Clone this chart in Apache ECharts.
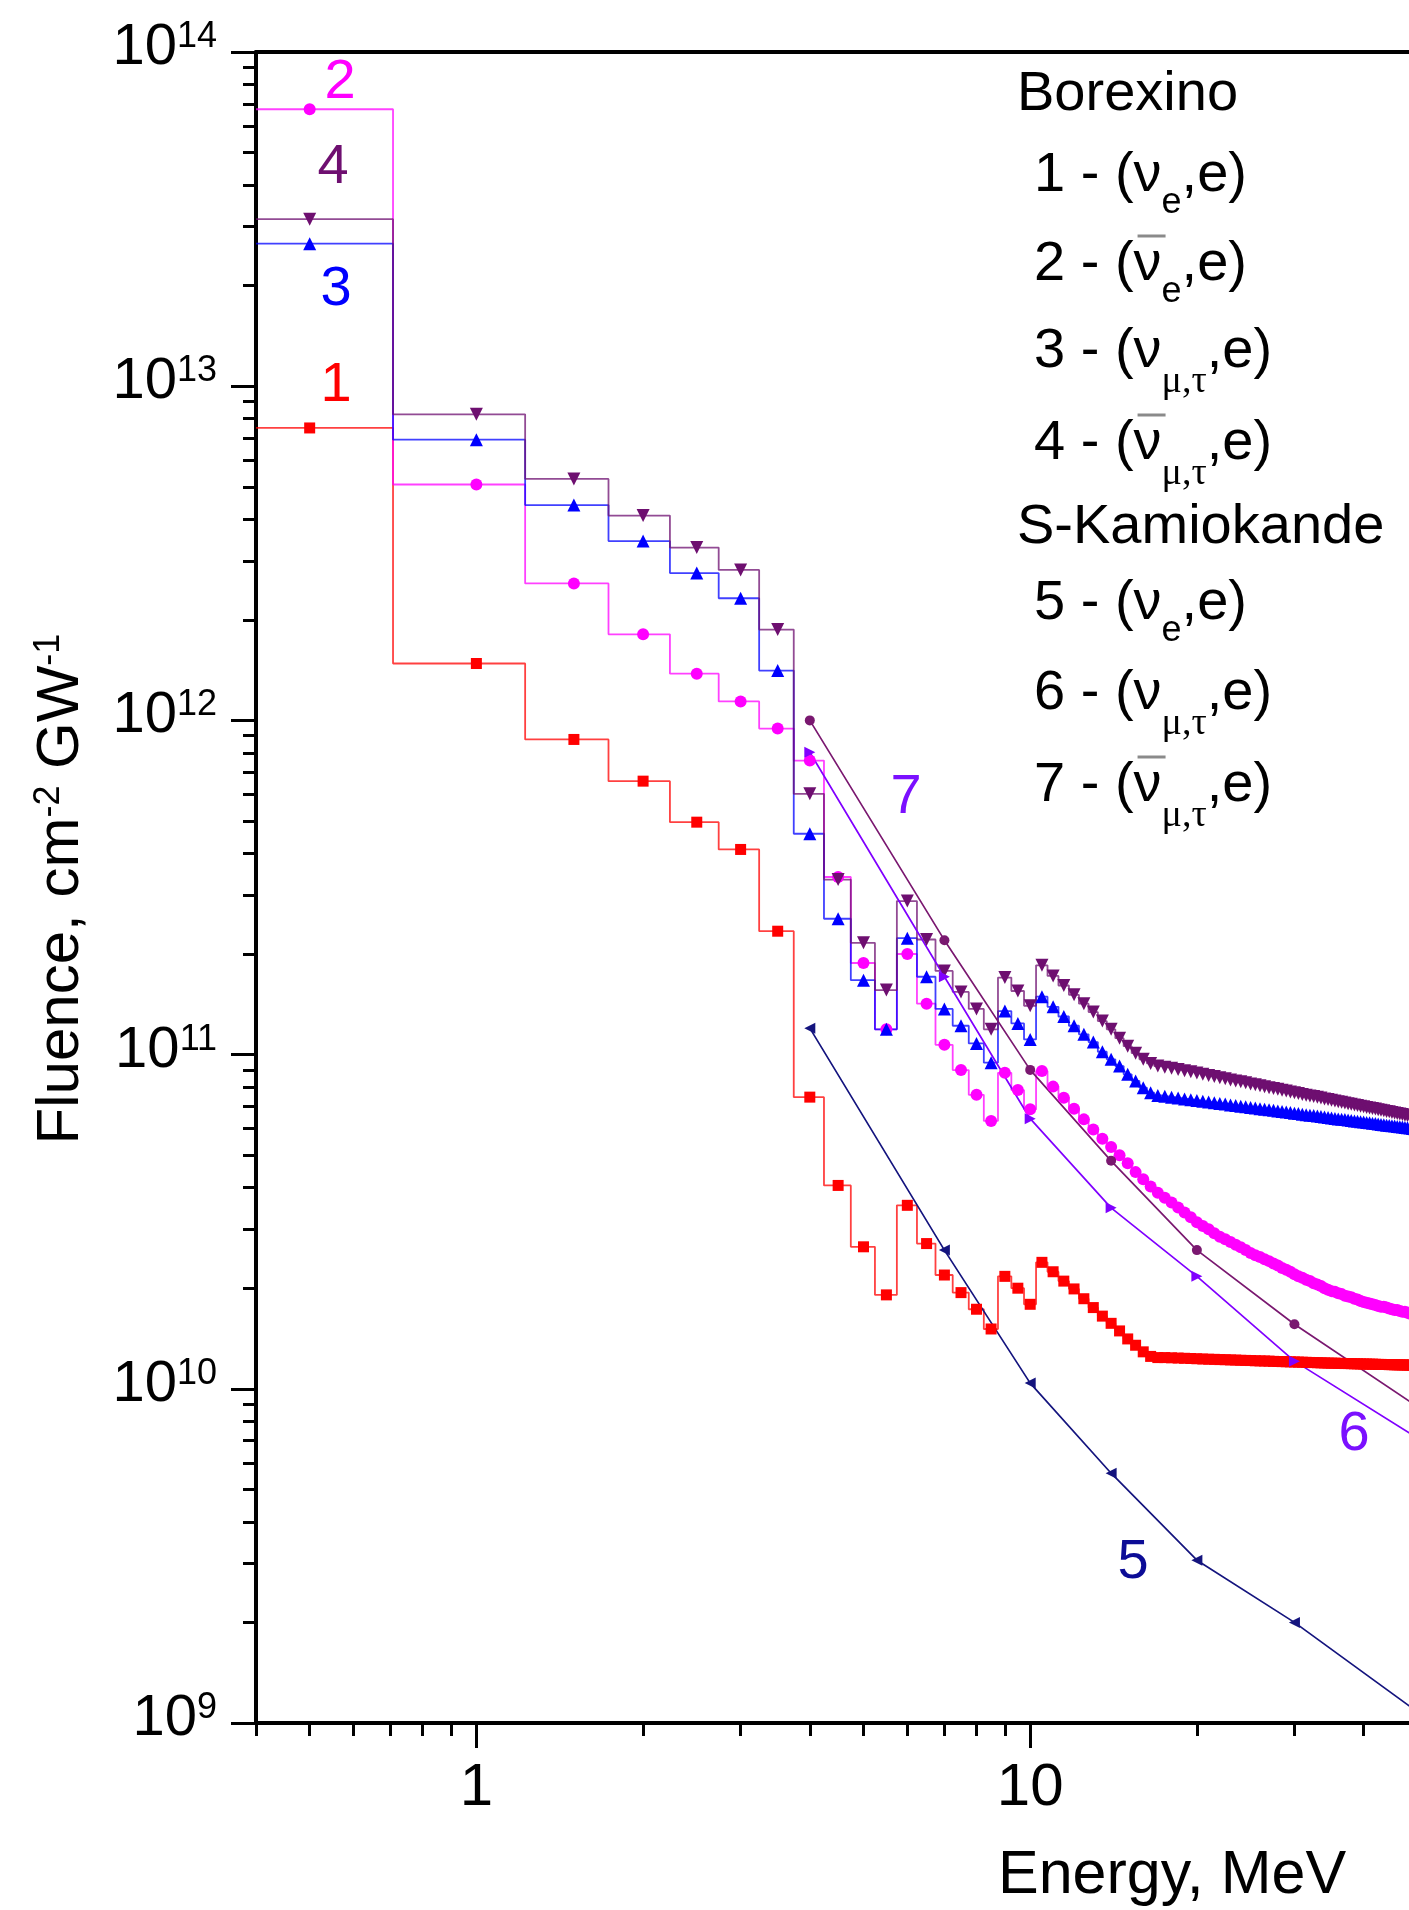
<!DOCTYPE html>
<html>
<head>
<meta charset="utf-8">
<title>Reactor antineutrino fluence</title>
<script src="https://cdn.jsdelivr.net/npm/echarts@6/dist/echarts.min.js"></script>
<style>
  html, body { margin: 0; padding: 0; background: #ffffff; }
  #chart { width: 1409px; height: 1910px; }
</style>
</head>
<body>
<div id="chart"></div>
<script>
const FONT = '"Liberation Sans", Arial, Helvetica, sans-serif';
const SERIF = '"Liberation Serif", "Times New Roman", serif';

// Fluence values below are given in units of 1e10 cm^-2 GW^-1
const UNIT = 1e10;

// Borexino: bin centres, MeV
const energy = [
  0.5, 1, 1.5, 2, 2.5, 3, 3.5, 4, 4.5, 5,
  5.5, 6, 6.5, 7, 7.5, 8, 8.5, 9, 9.5, 10,
  10.5, 11, 11.5, 12, 12.5, 13, 13.5, 14, 14.5, 15,
  15.5, 16, 16.5, 17, 17.5, 18, 18.5, 19, 19.5, 20,
  20.5, 21, 21.5, 22, 22.5, 23, 23.5, 24, 24.5, 25,
  25.5, 26, 26.5, 27, 27.5, 28, 28.5, 29, 29.5, 30,
  30.5, 31, 31.5, 32, 32.5, 33, 33.5, 34, 34.5, 35,
  35.5, 36, 36.5, 37, 37.5, 38, 38.5, 39, 39.5, 40,
  40.5, 41, 41.5, 42, 42.5, 43, 43.5, 44, 44.5, 45,
  45.5, 46, 46.5, 47, 47.5, 48, 48.5, 49, 49.5, 50
];

// 1 - (nu_e, e)
const fluence1 = [
  750, 148, 87.7, 65.8, 49.6, 41.1, 23.4, 7.46, 4.06, 2.66,
  1.91, 3.54, 2.72, 2.19, 1.94, 1.73, 1.51, 2.17, 2.00, 1.79,
  2.39, 2.24, 2.10, 1.99, 1.86, 1.75, 1.65, 1.57, 1.49, 1.41,
  1.35, 1.29, 1.25, 1.24, 1.240, 1.238, 1.236, 1.234, 1.232, 1.230,
  1.228, 1.226, 1.225, 1.223, 1.222, 1.220, 1.219, 1.217, 1.216, 1.215,
  1.213, 1.212, 1.211, 1.210, 1.208, 1.207, 1.206, 1.205, 1.204, 1.203,
  1.202, 1.201, 1.200, 1.199, 1.198, 1.197, 1.196, 1.195, 1.194, 1.193,
  1.193, 1.192, 1.191, 1.190, 1.190, 1.189, 1.188, 1.188, 1.187, 1.186,
  1.186, 1.185, 1.185, 1.184, 1.183, 1.183, 1.182, 1.182, 1.181, 1.181,
  1.180, 1.180, 1.179, 1.179, 1.178, 1.178, 1.177, 1.177, 1.176, 1.176
];

// 2 - (anti-nu_e, e)
const fluence2 = [
  6740, 508, 257, 181, 138, 114, 94.5, 75.8, 34.0, 18.8,
  11.9, 20.0, 14.2, 10.7, 8.99, 7.58, 6.33, 8.82, 7.83, 6.86,
  8.93, 8.02, 7.43, 6.89, 6.40, 5.97, 5.60, 5.29, 5.00, 4.73,
  4.45, 4.24, 4.03, 3.86, 3.73, 3.61, 3.49, 3.37, 3.26, 3.15,
  3.07, 3.00, 2.92, 2.85, 2.80, 2.75, 2.70, 2.65, 2.60, 2.55,
  2.51, 2.48, 2.44, 2.41, 2.37, 2.34, 2.30, 2.27, 2.24, 2.20,
  2.17, 2.15, 2.12, 2.10, 2.07, 2.05, 2.03, 2.00, 1.98, 1.96,
  1.95, 1.93, 1.92, 1.90, 1.89, 1.88, 1.86, 1.85, 1.83, 1.82,
  1.81, 1.80, 1.79, 1.78, 1.77, 1.76, 1.76, 1.75, 1.74, 1.73,
  1.72, 1.72, 1.71, 1.70, 1.70, 1.69, 1.68, 1.68, 1.67, 1.66
];

// 3 - (nu_mu,tau, e)
const fluence3 = [
  2670, 692, 441, 344, 276, 232, 141, 45.8, 25.5, 16.7,
  11.9, 22.3, 17.1, 13.7, 12.2, 10.8, 9.46, 13.5, 12.4, 11.1,
  14.9, 13.9, 13.0, 12.2, 11.5, 10.9, 10.2, 9.68, 9.24, 8.73,
  8.34, 7.96, 7.69, 7.55, 7.50, 7.46, 7.41, 7.37, 7.33, 7.29,
  7.25, 7.21, 7.18, 7.14, 7.11, 7.07, 7.04, 7.01, 6.98, 6.95,
  6.92, 6.89, 6.86, 6.84, 6.81, 6.78, 6.76, 6.73, 6.71, 6.68,
  6.66, 6.63, 6.61, 6.59, 6.57, 6.55, 6.53, 6.50, 6.48, 6.46,
  6.44, 6.42, 6.41, 6.39, 6.37, 6.35, 6.33, 6.32, 6.30, 6.28,
  6.26, 6.25, 6.23, 6.22, 6.20, 6.18, 6.17, 6.15, 6.14, 6.12,
  6.11, 6.09, 6.08, 6.07, 6.05, 6.04, 6.03, 6.01, 6.00, 5.99
];

// 4 - (anti-nu_mu,tau, e)
const fluence4 = [
  3160, 824, 528, 410, 329, 282, 187, 60.3, 33.4, 21.6,
  15.6, 28.8, 22.1, 17.8, 15.4, 13.7, 11.9, 17.0, 15.5, 14.0,
  18.5, 17.2, 16.1, 15.1, 14.2, 13.4, 12.6, 11.9, 11.2, 10.6,
  10.1, 9.68, 9.41, 9.24, 9.17, 9.10, 9.02, 8.95, 8.88, 8.81,
  8.73, 8.66, 8.60, 8.53, 8.47, 8.40, 8.34, 8.29, 8.23, 8.17,
  8.12, 8.07, 8.01, 7.96, 7.92, 7.87, 7.82, 7.78, 7.73, 7.69,
  7.65, 7.60, 7.56, 7.52, 7.49, 7.45, 7.41, 7.37, 7.34, 7.30,
  7.27, 7.23, 7.20, 7.17, 7.13, 7.10, 7.07, 7.04, 7.01, 6.98,
  6.95, 6.92, 6.90, 6.87, 6.84, 6.82, 6.79, 6.76, 6.74, 6.71,
  6.69, 6.66, 6.64, 6.62, 6.59, 6.57, 6.55, 6.52, 6.50, 6.48
];

// Super-Kamiokande: threshold energies, MeV
const skEnergy = [4, 7, 10, 14, 20, 30, 50];
const fluence5 = [12.0, 2.60, 1.04, 0.559, 0.307, 0.200, 0.108];   // (nu_e, e)
const fluence6 = [80.3, 17.1, 6.43, 3.48, 2.17, 1.21, 0.713];      // (nu_mu,tau, e)
const fluence7 = [100, 22.0, 9.00, 4.81, 2.60, 1.56, 0.885];       // (anti-nu_mu,tau, e)

// Axis ticks
const X_MIN = 0.4, X_MAX = 100;
const Y_MIN = 1e9, Y_MAX = 1e14;
const xMajorTicks = [1, 10, 100];
const xMinorTicks = [0.4, 0.5, 0.6, 0.7, 0.8, 0.9, 2, 3, 4, 5, 6, 7, 8, 9, 20, 30, 40, 50, 60, 70, 80, 90];
const yMajorTicks = [1e9, 1e10, 1e11, 1e12, 1e13, 1e14];
const yMinorMantissas = [2, 3, 4, 5, 6, 7, 8, 9];

// Text
const xTitle = 'Energy, MeV';
const legendHeads = ['Borexino', 'S-Kamiokande'];
const legendEntries = [
  { num: '1', sub: 'e', anti: false },
  { num: '2', sub: 'e', anti: true },
  { num: '3', sub: 'μ,τ', anti: false },
  { num: '4', sub: 'μ,τ', anti: true },
  { num: '5', sub: 'e', anti: false },
  { num: '6', sub: 'μ,τ', anti: false },
  { num: '7', sub: 'μ,τ', anti: true }
];
const curveTags = ['1', '2', '3', '4', '5', '6', '7'];

// ---------------------------------------------------------------------------

const yMinorTicks = [];
yMajorTicks.slice(0, -1).forEach(function (d) {
  yMinorMantissas.forEach(function (m) { yMinorTicks.push(m * d); });
});

[fluence1, fluence2, fluence3, fluence4].forEach(function (a) {
  if (a.length !== energy.length) throw new Error('length mismatch');
});

const stepStyles = [
  { values: fluence1, color: '#ff0000', symbol: 'rect', size: 11, rotate: 0 },
  { values: fluence2, color: '#ff00ff', symbol: 'circle', size: 12, rotate: 0 },
  { values: fluence3, color: '#0000ff', symbol: 'triangle', size: 13, rotate: 0 },
  { values: fluence4, color: '#6e0f70', symbol: 'triangle', size: 13, rotate: 180 }
];
const skStyles = [
  { values: fluence5, color: '#14147e', symbol: 'triangle', size: 11, rotate: 90 },
  { values: fluence6, color: '#8000ff', symbol: 'triangle', size: 11, rotate: -90 },
  { values: fluence7, color: '#7a1870', symbol: 'circle', size: 10, rotate: 0 }
];

const series = [];
stepStyles.forEach(function (s, k) {
  // the first bin is carried on to the left edge of the plot
  const data = [{ value: [X_MIN, s.values[0] * UNIT], symbol: 'none' }];
  energy.forEach(function (e, i) { data.push([e, s.values[i] * UNIT]); });
  series.push({
    type: 'line', name: 'B' + (k + 1), xAxisIndex: 0, yAxisIndex: 0,
    step: 'middle', data: data,
    symbol: s.symbol, symbolSize: s.size, symbolRotate: s.rotate, showAllSymbol: true,
    itemStyle: { color: s.color },
    lineStyle: { color: s.color, width: 1.8, opacity: 0.75 },
    emphasis: { disabled: true }, animation: false
  });
});
skStyles.forEach(function (s, k) {
  series.push({
    type: 'line', name: 'SK' + (k + 5), xAxisIndex: 0, yAxisIndex: 0,
    data: skEnergy.map(function (e, i) { return [e, s.values[i] * UNIT]; }),
    symbol: s.symbol, symbolSize: s.size, symbolRotate: s.rotate, showAllSymbol: true,
    itemStyle: { color: s.color },
    lineStyle: { color: s.color, width: 1.7 },
    emphasis: { disabled: true }, animation: false
  });
});

const AXIS_BLACK = '#000000';
const xBase = { type: 'log', logBase: 10, min: X_MIN, max: X_MAX, gridIndex: 0, splitLine: { show: false } };
const yBase = { type: 'log', logBase: 10, min: Y_MIN, max: Y_MAX, gridIndex: 0, splitLine: { show: false } };

// ---- free text: axis titles, legend block, curve tags ----
const measure = document.createElement('canvas').getContext('2d');
function textWidth(str, font) { measure.font = font; return measure.measureText(str).width; }

const graphic = [];

graphic.push({
  type: 'text', x: 998, y: 1876, silent: true,
  style: { text: xTitle, fill: '#000', fontSize: 61, fontFamily: FONT, align: 'left', verticalAlign: 'middle' }
});

graphic.push({
  type: 'text', x: 61, y: 889, rotation: Math.PI / 2, silent: true,
  style: {
    text: '{b|Fluence, cm}{s|-2}{b| GW}{s|-1}',
    fill: '#000', align: 'center', verticalAlign: 'middle',
    rich: {
      b: { fontSize: 60, lineHeight: 60, fontFamily: FONT, fill: '#000', verticalAlign: 'bottom' },
      s: { fontSize: 36, lineHeight: 36, fontFamily: FONT, fill: '#000', verticalAlign: 'top', padding: [0, 0, 32, 0] }
    }
  }
});

const LEG_FS = 56;
const headX = 1017, entryX = 1034;
const headY = [95, 528];
const entryY = [176, 265, 352, 444, 604, 694, 786];
legendHeads.forEach(function (h, i) {
  graphic.push({
    type: 'text', x: headX, y: headY[i], silent: true,
    style: { text: h, fill: '#000', fontSize: LEG_FS, fontFamily: FONT, align: 'left', verticalAlign: 'middle' }
  });
});
legendEntries.forEach(function (en, i) {
  const y = entryY[i];
  const greek = en.sub !== 'e';
  graphic.push({
    type: 'text', x: entryX, y: y - 28, silent: true,
    style: {
      text: '{b|' + en.num + ' - (ν}{' + (greek ? 'g' : 'e') + '|' + en.sub + '}{b|,e)}',
      fill: '#000', align: 'left', verticalAlign: 'top',
      rich: {
        b: { fontSize: LEG_FS, lineHeight: LEG_FS, fontFamily: FONT, fill: '#000', verticalAlign: 'top' },
        e: { fontSize: 36, lineHeight: 36, fontFamily: FONT, fill: '#000', verticalAlign: 'top', padding: [37, 0, 0, 0] },
        g: { fontSize: 38, lineHeight: 38, fontFamily: SERIF, fill: '#000', verticalAlign: 'top', padding: [39, 0, 0, 0] }
      }
    }
  });
  if (en.anti) {
    const f = LEG_FS + 'px ' + FONT;
    const x0 = entryX + textWidth(en.num + ' - (', f);
    const w = textWidth('ν', f);
    graphic.push({
      type: 'line', silent: true,
      shape: { x1: x0 + 4, y1: y - 29, x2: x0 + w + 4, y2: y - 29 },
      style: { stroke: '#8a8a8a', lineWidth: 3 }
    });
  }
});

const tagColors = ['#ff0000', '#ff00ff', '#0000ff', '#6e0f70', '#0c0c96', '#7b10ff', '#7b10ff'];
const tagPos = [[336, 386], [340, 83], [336, 290], [333, 168], [1133, 1563], [1354, 1435], [906, 798]];
curveTags.forEach(function (t, i) {
  graphic.push({
    type: 'text', x: tagPos[i][0], y: tagPos[i][1], silent: true,
    style: { text: t, fill: tagColors[i], fontSize: 56, fontFamily: FONT, align: 'center', verticalAlign: 'middle' }
  });
});

const chart = echarts.init(document.getElementById('chart'), null, { renderer: 'canvas' });
chart.setOption({
  backgroundColor: '#ffffff',
  animation: false,
  textStyle: { fontFamily: FONT },
  // the plot box runs on past the right edge of the page
  grid: {
    left: 256, width: 1328, top: 52, bottom: 187,
    containLabel: false, outerBoundsMode: 'none', show: false
  },
  xAxis: [
    Object.assign({}, xBase, {
      position: 'bottom',
      axisLine: { show: true, onZero: false, lineStyle: { color: AXIS_BLACK, width: 4 } },
      axisTick: { show: true, inside: false, length: 25, customValues: xMajorTicks, lineStyle: { color: AXIS_BLACK, width: 3 } },
      axisLabel: {
        show: true, customValues: xMajorTicks, margin: 35, color: '#000', fontSize: 60, fontFamily: FONT,
        formatter: function (v) { return String(v); }
      }
    }),
    Object.assign({}, xBase, {
      position: 'bottom',
      axisLine: { show: false },
      axisTick: { show: true, inside: false, length: 13, customValues: xMinorTicks, lineStyle: { color: AXIS_BLACK, width: 3 } },
      axisLabel: { show: false }
    }),
    Object.assign({}, xBase, {
      position: 'top',
      axisLine: { show: true, onZero: false, lineStyle: { color: AXIS_BLACK, width: 4 } },
      axisTick: { show: false },
      axisLabel: { show: false }
    })
  ],
  yAxis: [
    Object.assign({}, yBase, {
      position: 'left',
      axisLine: { show: true, onZero: false, lineStyle: { color: AXIS_BLACK, width: 4 } },
      axisTick: { show: true, inside: false, length: 25, customValues: yMajorTicks, lineStyle: { color: AXIS_BLACK, width: 3 } },
      axisLabel: {
        show: true, customValues: yMajorTicks, margin: 39, padding: [0, 0, 8, 0],
        formatter: function (v) { return '{b|10}{s|' + Math.round(Math.log10(v)) + '}'; },
        rich: {
          b: { fontSize: 58, lineHeight: 58, fontFamily: FONT, color: '#000', verticalAlign: 'bottom' },
          s: { fontSize: 36, lineHeight: 36, fontFamily: FONT, color: '#000', verticalAlign: 'top', padding: [0, 0, 30, 0] }
        }
      }
    }),
    Object.assign({}, yBase, {
      position: 'left',
      axisLine: { show: false },
      axisTick: { show: true, inside: false, length: 13, customValues: yMinorTicks, lineStyle: { color: AXIS_BLACK, width: 3 } },
      axisLabel: { show: false }
    })
  ],
  series: series,
  graphic: graphic
});
</script>
</body>
</html>
